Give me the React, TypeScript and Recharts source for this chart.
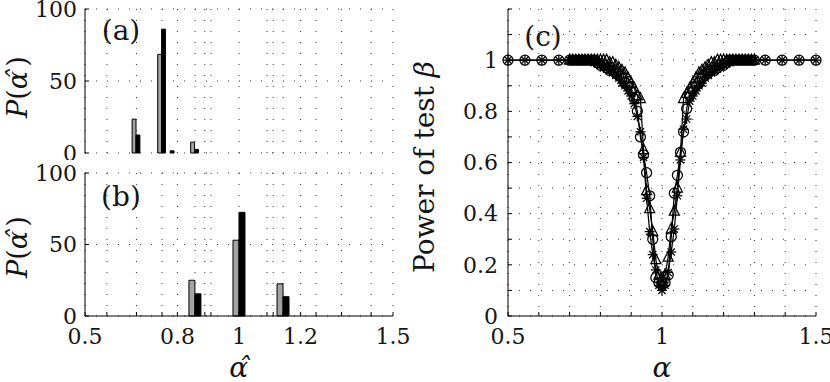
import React from 'react';
import { BarChart, Bar, LineChart, Line, XAxis, YAxis, CartesianGrid } from 'recharts';

// histogram bins (alpha hat) and percentages, panels (a) and (b)
const binsA = [0.667, 0.75, 0.778, 0.857];
const grayA = [23.5, 68.5, 0, 7.5];
const blackA = [12.5, 86, 1.5, 2.5];

const binsB = [0.857, 1, 1.143];
const grayB = [25, 53, 22.5];
const blackB = [15.5, 72.5, 13.5];

const histTicks = [0.5, 0.571, 0.667, 0.75, 0.8, 0.857, 0.889, 0.909, 1, 1.091, 1.111, 1.143, 1.2, 1.25, 1.333, 1.429, 1.5];
const histLabels = [0.5, 0.8, 1, 1.2, 1.5];
const pctTicks = [0, 50, 100];

// power of test, panel (c)
const alphaC = [0.5, 0.555, 0.61, 0.665,
  0.7, 0.71, 0.72, 0.73, 0.74, 0.75, 0.76, 0.77, 0.78, 0.79,
  0.8, 0.81, 0.82, 0.83, 0.84, 0.85, 0.86, 0.87, 0.88, 0.89,
  0.9, 0.91, 0.92, 0.93, 0.94, 0.95, 0.96, 0.97, 0.98, 0.99,
  1.0, 1.01, 1.02, 1.03, 1.04, 1.05, 1.06, 1.07, 1.08, 1.09,
  1.1, 1.11, 1.12, 1.13, 1.14, 1.15, 1.16, 1.17, 1.18, 1.19,
  1.2, 1.21, 1.22, 1.23, 1.24, 1.25, 1.26, 1.27, 1.28, 1.29,
  1.3, 1.335, 1.39, 1.445, 1.5];

const powCircle = [1, 1, 1, 1,
  1, 1, 1, 1, 1, 1, 1, 1, 1, 0.99,
  0.98, 0.98, 0.97, 0.96, 0.96, 0.95, 0.94, 0.93, 0.91, 0.9,
  0.88, 0.85, 0.8, 0.7, 0.63, 0.56, 0.47, 0.3, 0.15, 0.13,
  0.12, 0.13, 0.16, 0.31, 0.48, 0.55, 0.64, 0.72, 0.81, 0.86,
  0.88, 0.9, 0.91, 0.93, 0.94, 0.95, 0.96, 0.96, 0.97, 0.98,
  0.98, 0.99, 1, 1, 1, 1, 1, 1, 1, 1,
  1, 1, 1, 1, 1];

const powStar = [1, 1, 1, 1,
  1, 1, 1, 1, 1, 1, 1, 1, 0.99, 0.99,
  0.98, 0.97, 0.97, 0.96, 0.95, 0.94, 0.93, 0.91, 0.9, 0.88,
  0.86, 0.83, 0.78, 0.72, 0.62, 0.46, 0.33, 0.24, 0.18, 0.12,
  0.1, 0.12, 0.17, 0.25, 0.34, 0.47, 0.61, 0.73, 0.77, 0.84,
  0.86, 0.88, 0.9, 0.91, 0.93, 0.94, 0.95, 0.96, 0.97, 0.97,
  0.98, 0.99, 0.99, 1, 1, 1, 1, 1, 1, 1,
  1, 1, 1, 1, 1];

const powTri = [null, null, null, null,
  1, 1, 1, 1, 1, 1, 1, 1, 1, 1,
  1, 1, 1, 0.99, 0.99, 0.98, 0.97, 0.96, 0.95, 0.93,
  0.91, 0.89, 0.86, 0.85, 0.65, 0.49, 0.42, 0.33, 0.22, 0.16,
  0.15, 0.16, 0.23, 0.34, 0.41, 0.5, 0.64, 0.85, 0.87, 0.89,
  0.91, 0.93, 0.95, 0.96, 0.97, 0.98, 0.99, 0.99, 1, 1,
  1, 1, 1, 1, 1, 1, 1, 1, 1, 1,
  1, null, null, null, null];

const alphaTicks = [0.5, 0.6, 0.7, 0.8, 0.9, 1, 1.1, 1.2, 1.3, 1.4, 1.5];
const alphaLabels = [0.5, 1, 1.5];
const betaTicks = [0, 0.1, 0.2, 0.3, 0.4, 0.5, 0.6, 0.7, 0.8, 0.9, 1, 1.1, 1.2];
const betaLabels = [0, 0.2, 0.4, 0.6, 0.8, 1];

const FONT = '"DejaVu Serif", "Liberation Serif", serif';
const INK = '#151515';
const tickStyle = { fontSize: 22, fill: INK, style: { fontFamily: FONT } };
const blank = () => '';
const only = (list: number[]) => (v: number) => (list.includes(v) ? String(v) : '');

const histA = binsA.map((x, i) => ({ x, gray: grayA[i], black: blackA[i] }));
const histB = binsB.map((x, i) => ({ x, gray: grayB[i], black: blackB[i] }));
const powerData = alphaC.map((a, i) => ({ alpha: a, circ: powCircle[i], star: powStar[i], tri: powTri[i] }));

function Hist({ data, labels, width, height, margin, axisH }: any) {
  return (
    <BarChart width={width} height={height} data={data} barGap={0} margin={margin}>
      <CartesianGrid stroke="#333" strokeDasharray="1 10" />
      <XAxis dataKey="x" type="number" domain={[0.5, 1.5]} ticks={histTicks} interval={0}
        height={axisH} tickSize={-4} tickMargin={16} tick={tickStyle} stroke="#000"
        tickFormatter={labels ? only(histLabels) : blank} />
      <XAxis xAxisId="top" orientation="top" type="number" domain={[0.5, 1.5]} ticks={histTicks}
        interval={0} height={0} tickSize={-4} stroke="#000" tickFormatter={blank} />
      <YAxis type="number" domain={[0, 100]} ticks={pctTicks} interval={0} width={85}
        tickSize={-4} tickMargin={12} tick={tickStyle} stroke="#000" />
      <YAxis yAxisId="right" orientation="right" type="number" domain={[0, 100]} ticks={pctTicks}
        width={0} tickSize={-4} stroke="#000" tickFormatter={blank} />
      <Bar dataKey="gray" barSize={6} fill="#a3a3a3" stroke="#000" strokeWidth={1} isAnimationActive={false} />
      <Bar dataKey="black" barSize={6} fill="#000" stroke="#000" strokeWidth={1} isAnimationActive={false} />
    </BarChart>
  );
}

const SW = 1.25;

const markCircle = (p: any) => {
  if (p.cy == null || isNaN(p.cy)) return <g key={`c${p.index}`} />;
  return <circle key={`c${p.index}`} cx={p.cx} cy={p.cy} r={5} fill="none" stroke="#000" strokeWidth={SW} />;
};

const markStar = (p: any) => {
  if (p.cy == null || isNaN(p.cy)) return <g key={`s${p.index}`} />;
  const { cx, cy } = p;
  const d = 3.6;
  return (
    <g key={`s${p.index}`} stroke="#000" strokeWidth={SW}>
      <line x1={cx - 5} y1={cy} x2={cx + 5} y2={cy} />
      <line x1={cx} y1={cy - 5} x2={cx} y2={cy + 5} />
      <line x1={cx - d} y1={cy - d} x2={cx + d} y2={cy + d} />
      <line x1={cx - d} y1={cy + d} x2={cx + d} y2={cy - d} />
    </g>
  );
};

const markTri = (p: any) => {
  if (p.cy == null || isNaN(p.cy)) return <g key={`t${p.index}`} />;
  const { cx, cy } = p;
  return (
    <polygon key={`t${p.index}`} points={`${cx},${cy - 6} ${cx - 5},${cy + 4} ${cx + 5},${cy + 4}`}
      fill="none" stroke="#000" strokeWidth={SW} />
  );
};

function Power() {
  return (
    <LineChart width={430} height={382} data={powerData} margin={{ top: 9, right: 14, bottom: 0, left: 0 }}>
      <CartesianGrid stroke="#333" strokeDasharray="1 10" />
      <XAxis dataKey="alpha" type="number" domain={[0.5, 1.5]} ticks={alphaTicks} interval={0}
        height={66} tickSize={-4} tickMargin={16} tick={tickStyle} stroke="#000"
        tickFormatter={only(alphaLabels)} />
      <XAxis xAxisId="top" orientation="top" type="number" domain={[0.5, 1.5]} ticks={alphaTicks}
        interval={0} height={0} tickSize={-4} stroke="#000" tickFormatter={blank} />
      <YAxis type="number" domain={[0, 1.2]} ticks={betaTicks} interval={0} width={108}
        tickSize={-4} tickMargin={14} tick={tickStyle} stroke="#000" tickFormatter={only(betaLabels)} />
      <YAxis yAxisId="right" orientation="right" type="number" domain={[0, 1.2]} ticks={betaTicks}
        width={0} tickSize={-4} stroke="#000" tickFormatter={blank} />
      <Line dataKey="tri" stroke="#000" strokeWidth={SW} dot={markTri} isAnimationActive={false} />
      <Line dataKey="circ" stroke="#000" strokeWidth={SW} dot={markCircle} isAnimationActive={false} />
      <Line dataKey="star" stroke="#000" strokeWidth={SW} dot={markStar} isAnimationActive={false} />
    </LineChart>
  );
}

// P(alpha-hat) with the hat drawn over the alpha
function PHat({ x, y }: { x: number; y: number }) {
  return (
    <text x={x} y={y} textAnchor="middle" fontSize={27} transform={`rotate(-90 ${x} ${y})`}
      fill={INK} style={{ fontFamily: FONT }}>
      <tspan fontStyle="italic">P</tspan>
      <tspan>(</tspan>
      <tspan fontStyle="italic">α</tspan>
      <tspan fontStyle="italic" dx="-0.4em">ˆ</tspan>
      <tspan dx="0.06em">)</tspan>
    </text>
  );
}

export default function App() {
  const lab = { fill: INK, style: { fontFamily: FONT } };
  return (
    <div style={{ position: 'absolute', left: 0, top: 0, width: 830, height: 382, background: '#fff' }}>
      <div style={{ position: 'absolute', left: 0, top: 0 }}>
        <Hist data={histA} labels={false} width={400} height={160} axisH={0}
          margin={{ top: 9, right: 7, bottom: 7, left: 0 }} />
      </div>
      <div style={{ position: 'absolute', left: 0, top: 164 }}>
        <Hist data={histB} labels={true} width={415} height={218} axisH={66}
          margin={{ top: 9, right: 22, bottom: 0, left: 0 }} />
      </div>
      <div style={{ position: 'absolute', left: 400, top: 0 }}>
        <Power />
      </div>
      <svg width={830} height={382} style={{ position: 'absolute', left: 0, top: 0, pointerEvents: 'none' }}>
        <text x={121} y={40} textAnchor="middle" fontSize={28} {...lab}>(a)</text>
        <text x={121} y={206} textAnchor="middle" fontSize={28} {...lab}>(b)</text>
        <text x={543} y={46} textAnchor="middle" fontSize={28} {...lab}>(c)</text>
        <PHat x={27} y={87} />
        <PHat x={27} y={247} />
        <text x={434} y={167} textAnchor="middle" fontSize={28} transform="rotate(-90 434 167)" {...lab}>
          Power of test <tspan fontStyle="italic">β</tspan>
        </text>
        <text x={240} y={377} textAnchor="middle" fontSize={28} fontStyle="italic" {...lab}>
          α<tspan dx="-0.4em">ˆ</tspan>
        </text>
        <text x={662} y={377} textAnchor="middle" fontSize={28} fontStyle="italic" {...lab}>α</text>
      </svg>
    </div>
  );
}
